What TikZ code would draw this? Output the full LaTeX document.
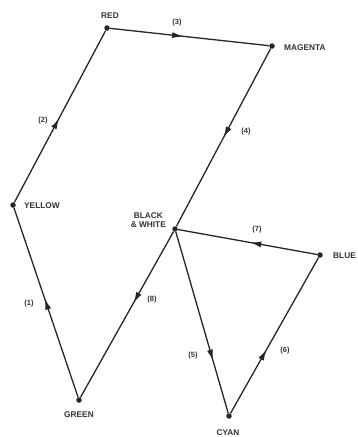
\documentclass[tikz,border=0pt]{standalone}
\usepackage{fontspec}
\setmainfont{Liberation Sans}
\usetikzlibrary{arrows.meta,decorations.markings}

\tikzset{
  dot/.style={circle, fill=black!85, inner sep=0pt, minimum size=5.5pt},
  colname/.style={font=\fontsize{8.3}{9.5}\selectfont\bfseries, text=black!80, inner sep=0pt},
  stepno/.style={font=\fontsize{7.5}{8}\selectfont\bfseries, text=black!80, inner sep=0pt},
  wire/.style={black!85, line width=1.3pt},
  arrat/.style={postaction={decorate, decoration={markings,
      mark=at position #1 with {\arrow{Latex[length=11pt,width=6pt]}}}}}
}

\begin{document}
\begin{tikzpicture}[x=1pt, y=-1pt]
    \useasboundingbox (0,0) rectangle (357,437);

    % Puntos
    \node[dot] (red)     at (107,28)  {};
    \node[dot] (magenta) at (272,46)  {};
    \node[dot] (yellow)  at (13,205)  {};
    \node[dot] (bw)      at (175,229) {};
    \node[dot] (blue)    at (320,255) {};
    \node[dot] (green)   at (79,400)  {};
    \node[dot] (cyan)    at (229,416) {};

    % Nombres
    \node[colname] at (110,16) {RED};
    \node[colname, anchor=west] at (284,48) {MAGENTA};
    \node[colname, anchor=west] at (24,206) {YELLOW};
    \node[colname, anchor=east, align=center] at (166,220) {BLACK\\[-1pt]\& WHITE};
    \node[colname, anchor=west] at (333,256) {BLUE};
    \node[colname] at (79,415) {GREEN};
    \node[colname] at (228,433) {CYAN};

    % Recorrido
    \draw[wire, arrat=0.52] (green) -- (yellow);
    \draw[wire, arrat=0.49] (yellow) -- (red);
    \draw[wire, arrat=0.46] (red) -- (magenta);
    \draw[wire, arrat=0.50] (magenta) -- (bw);
    \draw[wire, arrat=0.71] (bw) -- (cyan);
    \draw[wire, arrat=0.41] (cyan) -- (blue);
    \draw[wire, arrat=0.48] (blue) -- (bw);
    \draw[wire, arrat=0.43] (bw) -- (green);

    % Pasos
    \node[stepno] at (29,304)  {(1)};
    \node[stepno] at (43,121)  {(2)};
    \node[stepno] at (177,23)  {(3)};
    \node[stepno] at (246,132) {(4)};
    \node[stepno] at (193,356) {(5)};
    \node[stepno] at (285,351) {(6)};
    \node[stepno] at (257,230) {(7)};
    \node[stepno] at (152,300) {(8)};
\end{tikzpicture}
\end{document}
